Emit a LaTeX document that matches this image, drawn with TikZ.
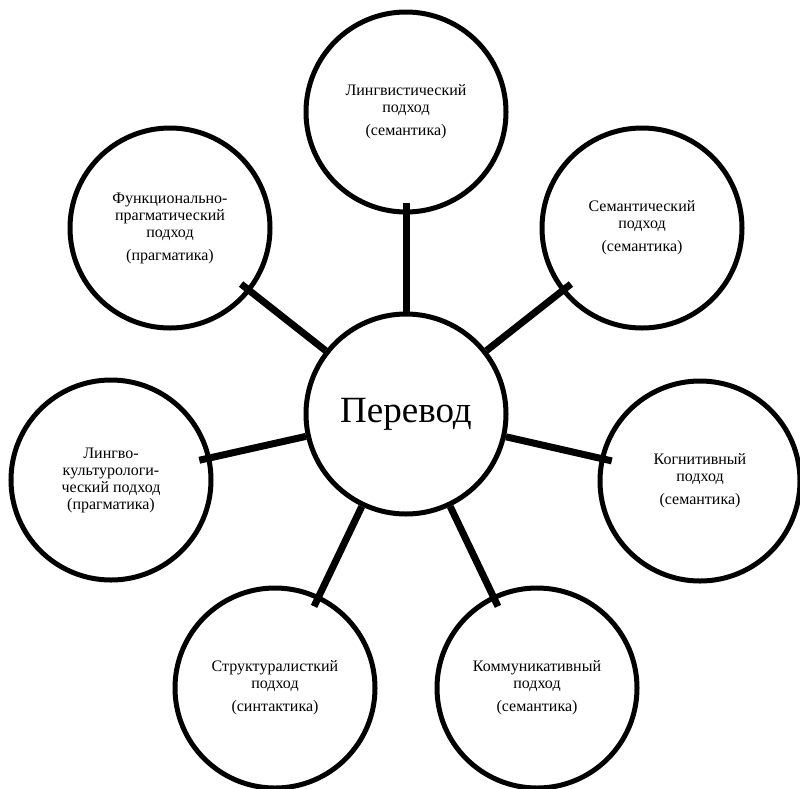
\documentclass[tikz,border=0pt]{standalone}
\usepackage{fontspec}
\setmainfont{Liberation Serif}
\begin{document}
\begin{tikzpicture}[x=1pt,y=-1pt,
    krug/.style={draw, circle, line width=5pt, minimum size=200pt, inner sep=0pt, align=center,
      font=\fontsize{16}{17}\selectfont},
    svyaz/.style={line width=7pt, shorten >=-12pt}]
  \useasboundingbox (0,0) rectangle (800,788);

  \node[krug, font=\fontsize{37}{40}\selectfont] (perevod) at (406,414) {Перевод};

  \node[krug] (lingv) at (406,112) {Лингвистический\\подход\\[6pt](семантика)};
  \node[krug] (semant) at (642,228) {Семантический\\подход\\[6pt](семантика)};
  \node[krug] (kogn) at (700,481) {Когнитивный\\подход\\[6pt](семантика)};
  \node[krug] (kommun) at (537,688) {Коммуникативный\\подход\\[6pt](семантика)};
  \node[krug] (strukt) at (275,688) {Структуралисткий\\подход\\[6pt](синтактика)};
  \node[krug] (kult) at (111,480) {Лингво-\\культурологи-\\ческий подход\\(прагматика)};
  \node[krug] (funk) at (170,228) {Функционально-\\прагматический\\подход\\[6pt](прагматика)};

  \foreach \n in {lingv,semant,kogn,kommun,strukt,kult,funk}
    \draw[svyaz] (perevod) -- (\n);
\end{tikzpicture}
\end{document}
